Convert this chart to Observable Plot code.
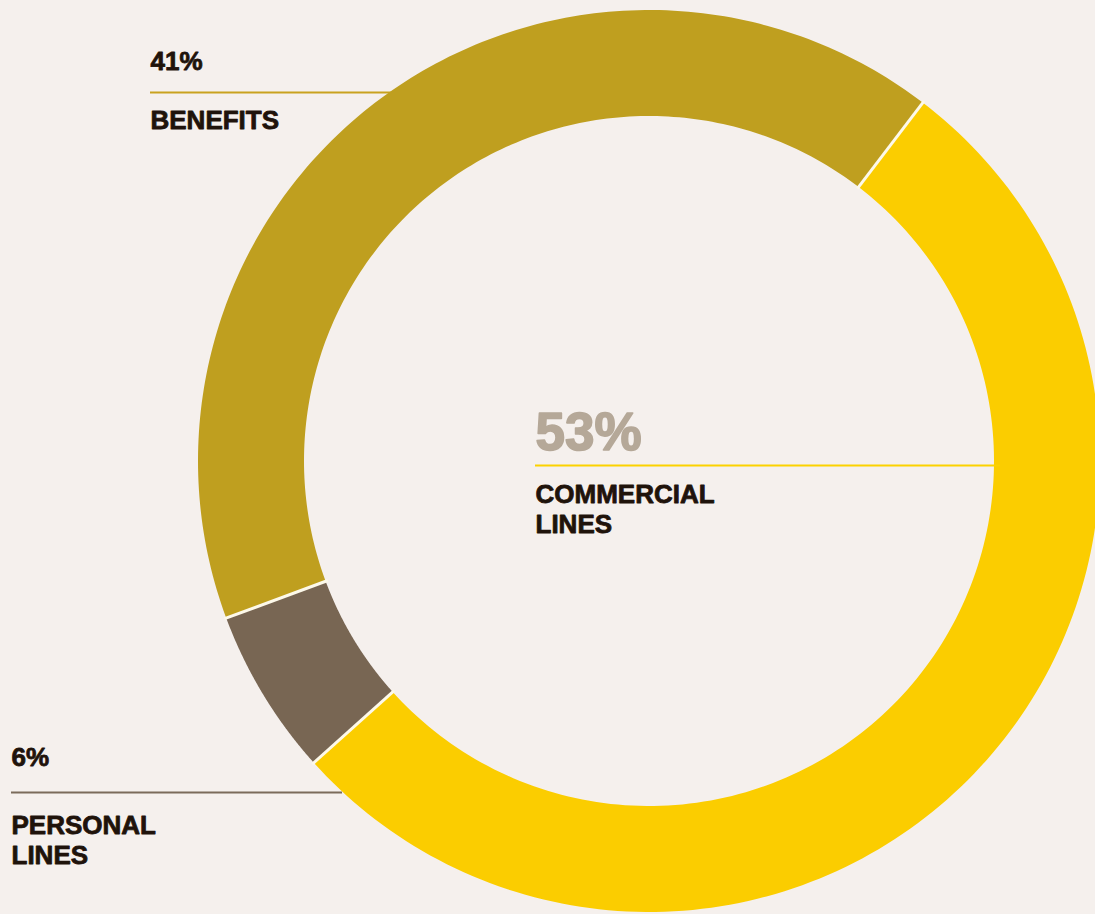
<!DOCTYPE html>
<html>
<head>
<meta charset="utf-8">
<script src="https://cdn.jsdelivr.net/npm/d3@7"></script>
<script src="https://cdn.jsdelivr.net/npm/@observablehq/plot@0.6"></script>
<style>
  html, body { margin: 0; padding: 0; background: #f5f0ed; }
  #chart svg { display: block; }
</style>
</head>
<body>
<div id="chart"></div>
<script>
// ---- data ----
const categories = ["COMMERCIAL\nLINES", "PERSONAL\nLINES", "BENEFITS"];
const shares = [53, 6, 41];
const percentLabels = ["53%", "6%", "41%"];
const colors = ["#fbcd00", "#786653", "#bf9f1f"];
const lineColors = ["#fcd200", "#7b6b5b", "#c9a21f"];

// ---- layout ----
const W = 1095, H = 914;
const cx = 649, cy = 461, rOuter = 451, rInner = 345;
const start = 37.3 * Math.PI / 180;
const font = "'Liberation Sans', Arial, sans-serif";
// label layout per category (same order as categories)
const layout = [
  {px: 535, py: 412, psize: 53, pcolor: "#b5a898", ly: 465, lx1: 535, lx2: 1000, ny: 481},
  {px: 11, py: 747, psize: 26, pcolor: "#1f130b", ly: 792, lx1: 11, lx2: 342, ny: 812},
  {px: 150, py: 51, psize: 26, pcolor: "#1f130b", ly: 92, lx1: 150, lx2: 400, ny: 107}
];

// ---- geometry from values ----
const arcs = d3.pie().sort(null).startAngle(start).endAngle(start + 2 * Math.PI)(shares);
const ringPts = [];
arcs.forEach((a, i) => {
  const n = 160;
  for (let k = 0; k <= n; k++) {
    const t = a.startAngle + (a.endAngle - a.startAngle) * k / n;
    ringPts.push({
      cat: categories[i],
      x1: cx + rInner * Math.sin(t), y1: cy - rInner * Math.cos(t),
      x2: cx + rOuter * Math.sin(t), y2: cy - rOuter * Math.cos(t)
    });
  }
});
const seps = arcs.map(a => ({
  x1: cx + (rInner - 2) * Math.sin(a.startAngle), y1: cy - (rInner - 2) * Math.cos(a.startAngle),
  x2: cx + (rOuter + 2) * Math.sin(a.startAngle), y2: cy - (rOuter + 2) * Math.cos(a.startAngle)
}));

const labels = categories.map((c, i) => ({cat: c, pct: percentLabels[i], color: lineColors[i], ...layout[i]}));
const under = labels.filter((d, i) => i !== 0);
const over = labels.filter((d, i) => i === 0);

const chart = Plot.plot({
  width: W, height: H, margin: 0,
  style: {background: "#f5f0ed", fontFamily: font},
  x: {domain: [0, W], range: [0, W], axis: null},
  y: {domain: [0, H], range: [0, H], axis: null},
  color: {domain: categories, range: colors},
  marks: [
    Plot.ruleY(under, {y: "ly", x1: "lx1", x2: "lx2", stroke: "color", strokeWidth: 2}),
    Plot.area(ringPts, {x1: "x1", y1: "y1", x2: "x2", y2: "y2", z: "cat", fill: "cat", curve: "linear"}),
    Plot.link(seps, {x1: "x1", y1: "y1", x2: "x2", y2: "y2", stroke: "#fdf9ea", strokeWidth: 3}),
    Plot.ruleY(over, {y: "ly", x1: "lx1", x2: "lx2", stroke: "color", strokeWidth: 2}),
    ...labels.map(d => Plot.text([d], {x: "px", y: "py", text: "pct", textAnchor: "start", lineAnchor: "top",
      fontSize: d.psize, fontWeight: "bold", fill: d.pcolor, stroke: d.pcolor, strokeWidth: d.psize > 40 ? 1.6 : 0.8,
      fontFamily: font})),
    Plot.text(labels, {x: "px", y: "ny", text: "cat", textAnchor: "start", lineAnchor: "top",
      fontSize: 26, lineHeight: 1.15, fontWeight: "bold", fill: "#1f130b", stroke: "#1f130b", strokeWidth: 0.8,
      fontFamily: font})
  ]
});
document.getElementById("chart").appendChild(chart);
</script>
</body>
</html>
